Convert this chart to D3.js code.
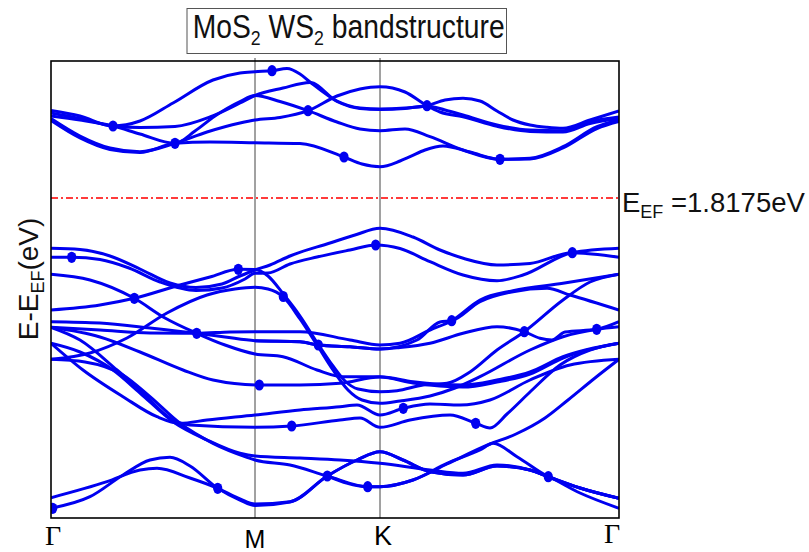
<!DOCTYPE html>
<html><head><meta charset="utf-8">
<script src="https://cdn.jsdelivr.net/npm/d3@7"></script>
<style>body{margin:0;background:#fff}svg{display:block}</style>
</head><body>
<svg id="chart" width="809" height="552"></svg>
<script>
// ---- data (k in path units, E in eV relative to E_EF) ----
const kTicks = [0, 2.04, 3.29, 5.68];
const kLabels = ["Γ", "M", "K", "Γ"];
const eFermiLabel = "1.8175eV";
const eRange = [-6.4, 2.74];

const cond1 = [[0,1.75],[.29,1.64],[.62,1.44],[.89,1.54],[1.22,1.90],[1.62,2.36],[1.89,2.50],[2.04,2.526],[2.21,2.546],[2.36,2.59],[2.49,2.48],[2.59,2.32],[2.86,1.94],[3.09,1.80],[3.29,1.78],[3.54,1.80],[3.76,1.846],[3.94,1.96],[4.12,1.994],[4.29,1.94],[4.46,1.74],[4.62,1.56],[4.79,1.46],[4.96,1.414],[5.12,1.394],[5.39,1.56],[5.68,1.74]];
const cond2 = [[0,1.70],[.29,1.59],[.62,1.44],[.89,1.41],[1.24,1.43],[1.59,1.62],[1.89,1.90],[2.04,2.05],[2.32,2.20],[2.59,2.31],[2.86,1.93],[3.09,1.79],[3.29,1.77],[3.54,1.79],[3.76,1.84],[3.94,1.76],[4.12,1.66],[4.46,1.46],[4.79,1.36],[5.12,1.346],[5.39,1.526],[5.68,1.62]];
const cond3 = [[0,1.64],[.29,1.56],[.62,1.44],[.89,1.28],[1.24,1.094],[1.44,1.34],[1.64,1.64],[1.89,1.93],[2.04,2.05],[2.29,1.93],[2.57,1.746],[2.86,1.52],[3.09,1.38],[3.29,1.346],[3.54,1.38],[3.79,1.226],[4.12,0.96],[4.49,0.774],[4.79,0.794],[5.12,1.026],[5.46,1.426],[5.68,1.56]];
const cond4 = [[0,1.59],[.29,1.24],[.59,1.00],[.89,0.926],[1.24,1.094],[1.56,1.32],[1.89,1.50],[2.04,1.56],[2.29,1.61],[2.57,1.746],[2.86,2.04],[3.09,2.18],[3.29,2.226],[3.54,2.12],[3.76,1.846],[3.89,1.72],[4.12,1.626],[4.46,1.434],[4.79,1.33],[5.12,1.32],[5.39,1.49],[5.68,1.59]];
const cond5 = [[0,1.55],[.29,1.20],[.59,0.97],[.89,0.91],[1.24,1.094],[1.59,1.12],[2.04,1.106],[2.49,1.09],[2.93,0.82],[3.11,0.68],[3.29,0.626],[3.49,0.74],[3.59,0.826],[3.74,0.96],[3.92,1.04],[4.19,0.92],[4.49,0.774],[4.79,0.78],[5.12,1.00],[5.46,1.39],[5.68,1.53]];

const val1 = [[0,-1.006],[.29,-1.03],[.59,-1.16],[.89,-1.42],[1.19,-1.70],[1.45,-1.79],[1.71,-1.72],[1.89,-1.56],[2.04,-1.44],[2.19,-1.34],[2.39,-1.16],[2.79,-0.90],[3.04,-0.74],[3.29,-0.606],[3.62,-0.78],[3.89,-1.04],[4.13,-1.21],[4.46,-1.34],[4.79,-1.31],[5.21,-1.094],[5.68,-1.186]];
const val2 = [[0,-1.186],[.21,-1.186],[.49,-1.23],[.78,-1.40],[1.09,-1.68],[1.45,-1.85],[1.71,-1.80],[1.94,-1.62],[2.04,-1.506],[2.17,-1.50],[2.39,-1.32],[2.66,-1.18],[2.99,-1.04],[3.247,-0.94],[3.49,-1.01],[3.79,-1.274],[4.12,-1.54],[4.46,-1.654],[4.72,-1.54],[5.21,-1.094],[5.68,-1.006]];
const val3 = [[0,-1.526],[.39,-1.64],[.833,-2.006],[1.14,-2.40],[1.457,-2.706],[1.74,-2.94],[2.04,-3.12],[2.32,-3.174],[2.66,-3.44],[2.92,-3.574],[3.29,-3.574],[3.62,-3.674],[4.12,-3.74],[4.46,-3.64],[4.79,-3.48],[5.12,-3.174],[5.68,-2.906]];
const val4 = [[0,-2.24],[.49,-2.14],[.833,-2.006],[1.29,-1.74],[1.59,-1.58],[1.873,-1.426],[2.04,-1.43],[2.17,-1.56],[2.323,-1.92],[2.49,-2.36],[2.67,-2.92],[2.82,-3.36],[2.94,-3.66],[3.07,-3.82],[3.29,-3.874],[3.46,-3.854],[3.72,-3.74],[3.96,-3.706],[4.19,-3.48],[4.46,-3.04],[4.733,-2.674],[5.12,-2.04],[5.39,-1.68],[5.68,-1.526]];
const val5 = [[0,-3.226],[.39,-3.10],[.76,-2.80],[1.16,-2.30],[1.56,-1.94],[1.84,-1.82],[2.04,-1.786],[2.17,-1.82],[2.323,-1.98],[2.49,-2.42],[2.673,-2.98],[2.82,-3.44],[2.97,-3.84],[3.11,-4.04],[3.29,-4.106],[3.49,-4.06],[3.79,-3.96],[4.04,-3.80],[4.29,-3.574],[4.79,-3.04],[5.12,-2.774],[5.457,-2.626],[5.68,-2.574]];
const val6 = [[0,-2.474],[.49,-2.50],[.99,-2.60],[1.457,-2.706],[1.74,-2.78],[2.04,-2.854],[2.49,-2.874],[2.673,-2.94],[2.99,-2.974],[3.29,-3.02],[3.66,-2.84],[3.89,-2.48],[4.007,-2.454],[4.29,-2.074],[4.62,-1.874],[4.96,-1.806],[5.19,-1.94],[5.68,-2.24]];
const val7 = [[0,-2.586],[.49,-2.64],[.99,-2.70],[1.457,-2.706],[1.79,-2.68],[2.04,-2.674],[2.49,-2.674],[2.99,-2.84],[3.29,-2.94],[3.49,-2.906],[3.79,-2.64],[4.007,-2.454],[4.29,-2.04],[4.62,-1.854],[5.12,-1.706],[5.68,-1.526]];
const val8 = [[0,-2.586],[.49,-2.78],[.89,-3.08],[1.32,-3.44],[1.62,-3.64],[2.08,-3.74],[2.49,-3.74],[2.89,-3.706],[3.29,-3.58],[3.62,-3.70],[4.12,-3.78],[4.46,-3.68],[4.79,-3.52],[5.12,-3.20],[5.68,-2.906]];
const val9 = [[0,-2.586],[.29,-2.84],[.66,-3.44],[.89,-3.84],[1.22,-4.44],[1.39,-4.54],[2.04,-4.586],[2.407,-4.56],[2.89,-4.44],[3.09,-4.40],[3.29,-4.586],[3.59,-4.44],[3.99,-4.34],[4.247,-4.506],[4.39,-4.60],[4.56,-4.32],[4.79,-3.88],[5.09,-3.34],[5.39,-3.04],[5.68,-2.906]];
const val10 = [[0,-2.906],[.32,-3.44],[.72,-3.974],[1.06,-4.374],[1.29,-4.506],[1.56,-4.44],[2.04,-4.34],[2.49,-4.24],[2.89,-4.174],[3.06,-4.14],[3.29,-4.34],[3.523,-4.206],[3.79,-4.12],[4.09,-4.14],[4.39,-4.04],[4.79,-3.64],[5.19,-3.34],[5.68,-3.226]];
const val11 = [[0,-2.906],[.29,-3.08],[.62,-3.44],[.89,-3.90],[1.22,-4.474],[1.56,-4.84],[1.89,-5.106],[2.04,-5.16],[2.49,-5.20],[2.89,-5.24],[3.29,-5.306],[3.79,-5.44],[4.12,-5.506],[4.46,-5.34],[4.79,-5.44],[4.973,-5.574],[5.29,-5.80],[5.68,-6.006]];
const val12 = [[0,-3.226],[.34,-3.28],[.72,-3.54],[.99,-3.974],[1.29,-4.506],[1.62,-4.906],[1.96,-5.186],[2.04,-5.24],[2.39,-5.34],[2.763,-5.56],[3.167,-5.774],[3.29,-5.774],[3.62,-5.64],[3.96,-5.306],[4.29,-5.04],[4.42,-4.906],[4.66,-5.174],[4.973,-5.574],[5.29,-5.80],[5.68,-6.006]];
const val13 = [[0,-5.994],[.56,-5.674],[.89,-5.44],[1.06,-5.406],[1.39,-5.60],[1.667,-5.806],[1.89,-6.02],[2.04,-6.12],[2.39,-6.074],[2.763,-5.56],[3.06,-5.24],[3.29,-5.074],[3.52,-5.24],[3.79,-5.474],[4.12,-5.54],[4.46,-5.36],[4.79,-5.44],[4.973,-5.574],[5.29,-5.90],[5.68,-6.206]];
const val14 = [[0,-6.206],[.39,-5.974],[.72,-5.54],[.99,-5.24],[1.19,-5.186],[1.39,-5.36],[1.667,-5.806],[1.89,-6.04],[2.04,-6.15],[2.39,-6.08],[2.763,-5.56],[3.06,-5.24],[3.29,-5.074],[3.52,-5.24],[3.79,-5.474],[4.12,-5.54],[4.46,-5.36],[4.79,-5.44],[4.973,-5.574],[5.29,-5.80],[5.68,-6.006]];
const val15 = [[2.04,-2.854],[2.49,-2.874],[2.673,-2.94],[2.99,-2.974],[3.29,-3.02],[3.49,-2.99],[3.79,-2.906],[4.12,-2.706],[4.46,-2.574],[4.733,-2.674],[4.89,-2.806],[5.01,-2.84],[5.14,-2.68],[5.457,-2.626],[5.68,-2.474]];
const val16 = [[2.763,-5.56],[3.167,-5.774],[3.29,-5.774],[3.62,-5.64],[3.96,-5.32],[4.39,-4.92],[4.65,-4.72],[4.94,-4.40],[5.17,-4.04],[5.44,-3.60],[5.68,-3.226]];

const markerPoints = [[2.21,2.546],[.62,1.44],[1.24,1.094],[2.57,1.746],[2.93,0.82],[3.76,1.846],[4.49,0.774],
  [.207,-1.186],[1.873,-1.426],[.833,-2.006],[2.323,-1.97],[1.457,-2.706],[2.673,-2.94],[3.247,-0.94],[5.213,-1.094],
  [4.007,-2.454],[4.733,-2.674],[5.457,-2.626],[2.083,-3.74],[2.407,-4.56],[3.523,-4.206],[4.247,-4.506],
  [1.667,-5.806],[2.763,-5.56],[3.167,-5.774],[4.973,-5.574],[.017,-6.206]];

const bands = [cond1,cond2,cond3,cond4,cond5,val1,val2,val3,val4,val5,val6,val7,val8,val9,val10,val11,val12,val13,val14,val15,val16];

// ---- drawing ----
const svg = d3.select("#chart");
const L = 51, R = 619, T = 61, B = 518;
const x = d3.scaleLinear().domain([kTicks[0], kTicks[3]]).range([L, R]);
const y = d3.scaleLinear().domain(eRange).range([B, T]);
const blue = "#0000f0";

const clip = svg.append("defs").append("clipPath").attr("id","pc");
clip.append("rect").attr("x",L).attr("y",T).attr("width",R-L).attr("height",B-T);

svg.append("g").selectAll("line").data(kTicks.slice(1,3)).join("line")
  .attr("x1", d => x(d)).attr("x2", d => x(d)).attr("y1", T-3).attr("y2", B)
  .attr("stroke", "#444").attr("stroke-width", 1);

svg.append("line").attr("x1", L).attr("x2", R).attr("y1", y(0)).attr("y2", y(0))
  .attr("stroke", "#ff3b3b").attr("stroke-width", 2).attr("stroke-dasharray", "7,3,2,3");

const line = d3.line().x(d => x(d[0])).y(d => y(d[1])).curve(d3.curveMonotoneX);
const g = svg.append("g").attr("clip-path","url(#pc)");
g.selectAll("path.band").data(bands).join("path").attr("class","band")
  .attr("d", line).attr("fill","none").attr("stroke", blue).attr("stroke-width", 3)
  .attr("stroke-linejoin","round");
g.selectAll("ellipse").data(markerPoints).join("ellipse")
  .attr("cx", d => x(d[0])).attr("cy", d => y(d[1])).attr("rx", 4.6).attr("ry", 5.6).attr("fill", blue);

svg.append("rect").attr("x", L).attr("y", T).attr("width", R-L).attr("height", B-T)
  .attr("fill","none").attr("stroke","#000").attr("stroke-width",1.6);

const tickDx = [2, 0, 3, -7], tickDy = [545, 548, 545, 543];
svg.append("g").selectAll("text").data(kLabels).join("text")
  .attr("x", (d,i) => x(kTicks[i]) + tickDx[i]).attr("y", (d,i) => tickDy[i])
  .attr("text-anchor","middle")
  .attr("font-family", d => d === "Γ" ? "Liberation Serif, serif" : "Liberation Sans, Arial, sans-serif")
  .attr("font-size", d => d === "Γ" ? 28 : (d === "M" ? 25 : 27))
  .text(d => d);

svg.append("rect").attr("x",187).attr("y",8.5).attr("width",319.5).attr("height",45)
  .attr("fill","#fff").attr("stroke","#555").attr("stroke-width",1);
const title = svg.append("text").attr("transform","translate(192.7,37.7) scale(0.844,1)")
  .attr("font-family","Liberation Sans, Arial, sans-serif").attr("font-size",33.5).attr("fill","#111");
title.append("tspan").text("MoS");
title.append("tspan").attr("font-size",21).attr("dy",7).text("2");
title.append("tspan").attr("dy",-7).text(" WS");
title.append("tspan").attr("font-size",21).attr("dy",7).text("2");
title.append("tspan").attr("dy",-7).text(" bandstructure");

const yl = svg.append("text").attr("transform","translate(38,279) rotate(-90)")
  .attr("text-anchor","middle").attr("font-family","Liberation Sans, Arial, sans-serif")
  .attr("font-size",28).attr("fill","#111");
yl.append("tspan").text("E-E");
yl.append("tspan").attr("font-size",18).attr("dy",6).text("EF");
yl.append("tspan").attr("dy",-6).text("(eV)");

const fl = svg.append("text").attr("x", R + 3).attr("y", y(0) + 13.5)
  .attr("font-family","Liberation Sans, Arial, sans-serif").attr("font-size",27.5).attr("fill","#111");
fl.append("tspan").text("E");
fl.append("tspan").attr("font-size",18).attr("dy",6.5).text("EF");
fl.append("tspan").attr("dy",-6.5).text(" =" + eFermiLabel);
</script>
</body></html>
